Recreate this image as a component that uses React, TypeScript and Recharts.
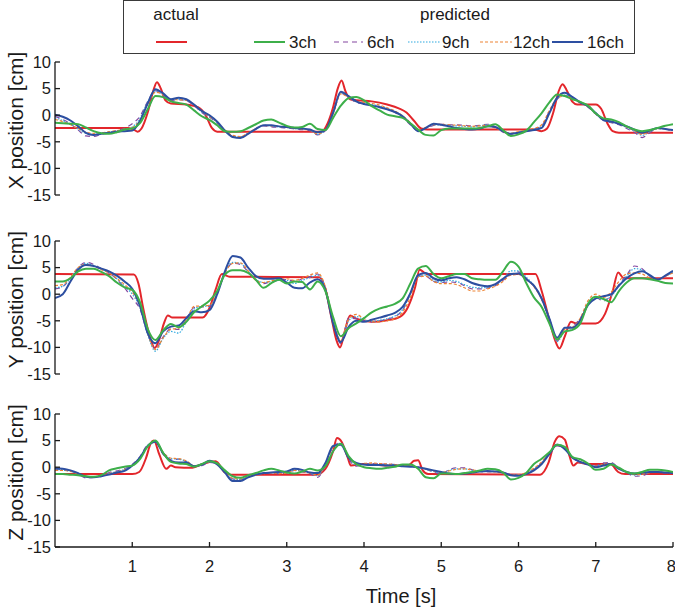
import React from 'react';
import { LineChart, Line, XAxis, YAxis, Legend } from 'recharts';

const FONT = '"Liberation Sans", Arial, Helvetica, sans-serif';

// common time grid for the predicted traces [s]
const TIME = [
  0.0, 0.1, 0.2, 0.3, 0.4, 0.5, 0.6, 0.7, 0.8, 0.9,
  1.0, 1.1, 1.2, 1.3, 1.4, 1.5, 1.6, 1.7, 1.8, 1.9,
  2.0, 2.1, 2.2, 2.3, 2.4, 2.5, 2.6, 2.7, 2.8, 2.9,
  3.0, 3.1, 3.2, 3.3, 3.4, 3.5, 3.6, 3.7, 3.8, 3.9,
  4.0, 4.1, 4.2, 4.3, 4.4, 4.5, 4.6, 4.7, 4.8, 4.9,
  5.0, 5.1, 5.2, 5.3, 5.4, 5.5, 5.6, 5.7, 5.8, 5.9,
  6.0, 6.1, 6.2, 6.3, 6.4, 6.5, 6.6, 6.7, 6.8, 6.9,
  7.0, 7.1, 7.2, 7.3, 7.4, 7.5, 7.6, 7.7, 7.8, 7.9,
  8.0,
];

const Y_TICKS = [-15, -10, -5, 0, 5, 10];
const X_TICKS = [1, 2, 3, 4, 5, 6, 7, 8];

// ---------- X position ----------
const X_ACTUAL_T = [0, 0.95, 1.02, 1.07, 1.12, 1.2, 1.27, 1.32, 1.37, 1.43, 1.5, 1.7, 1.85, 1.95, 2.03, 2.1, 2.3, 3.45, 3.53, 3.6, 3.66, 3.71, 3.76, 3.82, 3.9, 4.1, 4.3, 4.45, 4.55, 4.65, 4.74, 4.82, 6.2, 6.3, 6.37, 6.45, 6.52, 6.57, 6.62, 6.7, 6.76, 7.0, 7.07, 7.15, 7.22, 7.3, 8];
const X_ACTUAL_V = [-2.4, -2.4, -2.7, -3.1, -2.5, 0.5, 4.5, 6.2, 5.0, 2.8, 2.2, 2.0, 1.5, 0.0, -2.4, -3.1, -3.1, -3.1, -1.5, 1.5, 5.0, 6.5, 4.5, 3.0, 2.8, 2.6, 2.0, 1.3, 0.5, -1.1, -2.5, -2.7, -2.7, -3.0, -2.5, 0.5, 4.5, 5.8, 4.8, 2.5, 2.0, 2.0, 1.2, -1.5, -3.0, -3.3, -3.3];
const X_3CH = [
  -1.4, -1.5, -1.6, -1.7, -2.3, -3.0, -3.4, -3.5, -3.2, -2.7,
  -2.5, -1.5, 1.1, 3.6, 3.4, 2.6, 2.3, 2.0, 0.9, -0.2,
  -0.9, -1.9, -3.0, -3.1, -3.0, -2.4, -1.7, -1.0, -0.8, -1.4,
  -2.0, -2.3, -2.2, -1.6, -2.6, -2.8, -0.5, 1.8, 3.2, 3.4,
  2.8, 1.7, 0.9, 0.1, -0.2, -0.5, -1.5, -2.7, -3.7, -3.8,
  -2.8, -2.5, -2.5, -2.5, -2.5, -2.4, -2.1, -1.7, -2.8, -3.9,
  -3.6, -2.9, -1.3, 0.4, 2.4, 3.9, 3.6, 3.0, 2.5, 1.8,
  0.3, -0.6, -0.8, -1.3, -2.1, -2.7, -3.0, -2.8, -2.4, -2.0,
  -1.7,
];
const X_6CH = [
  -0.2, -0.8, -1.6, -2.8, -3.9, -4.0, -3.6, -3.2, -2.9, -2.4,
  -1.6, -0.2, 2.6, 4.6, 3.8, 2.8, 2.9, 2.7, 1.8, 0.5,
  -0.4, -1.5, -3.0, -4.0, -4.1, -3.4, -2.5, -2.0, -2.2, -2.3,
  -2.4, -2.6, -2.7, -2.9, -3.7, -2.9, 0.4, 4.1, 3.4, 2.4,
  2.2, 1.9, 1.6, 1.2, 0.5, -0.4, -1.8, -2.9, -2.5, -1.9,
  -1.7, -1.8, -1.8, -1.9, -2.0, -1.9, -1.7, -2.2, -3.2, -3.6,
  -3.2, -2.9, -2.6, -2.0, 0.8, 3.0, 3.7, 3.2, 2.3, 1.5,
  0.2, -1.0, -1.4, -1.8, -2.5, -3.2, -4.2, -3.3, -2.5, -2.6,
  -2.9,
];
const X_9CH = [
  -0.5, -1.0, -1.7, -2.6, -3.4, -3.6, -3.4, -3.2, -3.0, -2.7,
  -2.2, -0.6, 2.5, 4.4, 3.9, 2.9, 3.0, 2.8, 1.9, 0.6,
  -0.3, -1.4, -3.0, -4.0, -4.1, -3.4, -2.6, -1.9, -2.0, -2.2,
  -2.3, -2.5, -2.6, -2.8, -3.6, -2.8, 0.3, 4.2, 3.5, 2.5,
  2.2, 2.0, 1.7, 1.3, 0.7, -0.2, -1.6, -2.9, -2.4, -1.8,
  -1.8, -1.9, -2.0, -2.1, -2.2, -2.0, -1.8, -2.3, -3.1, -3.5,
  -3.2, -2.9, -2.6, -2.1, 0.6, 3.1, 3.8, 3.3, 2.4, 1.6,
  0.3, -0.9, -1.3, -1.7, -2.3, -3.0, -3.8, -3.1, -2.5, -2.6,
  -2.9,
];
const X_12CH = [
  -0.8, -1.2, -1.8, -2.5, -3.2, -3.4, -3.3, -3.1, -2.9, -2.6,
  -2.3, -0.9, 2.2, 4.3, 3.9, 2.9, 2.9, 2.8, 2.0, 0.8,
  -0.2, -1.3, -2.8, -3.8, -4.0, -3.3, -2.5, -1.9, -2.0, -2.1,
  -2.3, -2.4, -2.6, -2.8, -3.5, -2.7, 0.2, 4.0, 3.4, 2.6,
  2.4, 2.2, 1.9, 1.4, 0.8, -0.1, -1.4, -2.8, -2.3, -1.8,
  -1.7, -1.8, -1.9, -2.0, -2.1, -2.0, -1.9, -2.4, -3.0, -3.4,
  -3.1, -2.8, -2.5, -1.8, 0.9, 3.2, 3.6, 3.1, 2.3, 1.6,
  0.3, -0.8, -1.2, -1.6, -2.2, -2.9, -3.6, -3.0, -2.5, -2.6,
  -2.8,
];
const X_16CH = [
  0.1, -0.3, -1.0, -2.1, -3.3, -3.7, -3.5, -3.3, -3.1, -3.0,
  -2.9, -1.1, 2.2, 4.9, 4.1, 3.0, 3.3, 3.0, 2.0, 0.8,
  0.0, -1.2, -2.9, -4.1, -4.3, -3.5, -2.6, -1.9, -1.9, -2.1,
  -2.2, -2.4, -2.5, -2.7, -3.2, -2.8, 0.5, 4.4, 3.6, 2.6,
  2.1, 1.8, 1.5, 1.1, 0.6, -0.2, -1.6, -3.0, -2.4, -1.6,
  -1.8, -2.1, -2.4, -2.6, -2.7, -2.5, -2.1, -2.2, -3.0, -3.5,
  -3.3, -3.0, -2.8, -2.4, 0.4, 3.3, 4.2, 3.4, 2.4, 1.7,
  0.4, -0.9, -1.2, -1.6, -2.1, -2.7, -3.3, -2.9, -2.4, -2.6,
  -2.8,
];

// ---------- Y position ----------
const Y_ACTUAL_T = [0, 1.02, 1.08, 1.14, 1.2, 1.25, 1.29, 1.35, 1.41, 1.46, 1.52, 1.91, 2.0, 2.08, 2.16, 2.26, 3.42, 3.5, 3.58, 3.64, 3.69, 3.75, 3.82, 3.9, 4.1, 4.3, 4.47, 4.57, 4.66, 4.72, 4.81, 6.22, 6.3, 6.4, 6.47, 6.53, 6.6, 6.68, 6.75, 7.0, 7.12, 7.22, 7.29, 7.36, 8];
const Y_ACTUAL_V = [3.8, 3.7, 2.0, -2.5, -6.5, -9.0, -10.1, -8.5, -5.5, -4.0, -4.4, -4.4, -2.6, 0.9, 3.8, 3.3, 3.2, 1.0, -4.5, -8.5, -10.0, -7.0, -4.0, -4.6, -5.2, -4.9, -4.2, -2.4, 1.2, 4.6, 3.8, 3.8, 0.6, -4.9, -8.5, -10.2, -7.9, -5.2, -5.5, -5.5, -3.7, 0.6, 4.1, 3.0, 3.0];
const Y_3CH = [
  2.4, 2.4, 3.0, 4.3, 4.8, 4.8, 4.2, 3.4, 2.2, 1.3,
  0.8, -1.5, -6.5, -8.6, -6.8, -5.6, -6.2, -5.2, -3.4, -2.3,
  -1.2, 0.6, 3.7, 4.5, 4.5, 4.0, 2.7, 1.2, 2.1, 2.7,
  2.0, 2.4, 2.3, 0.9, 2.4, 0.6, -4.3, -7.9, -6.4, -5.5,
  -4.5, -3.4, -2.7, -2.3, -1.8, -0.8, 2.0, 4.8, 5.3, 3.8,
  3.0, 3.4, 3.8, 3.8, 3.0, 2.8, 2.7, 2.7, 4.3, 6.1,
  5.2, 2.1, -0.6, -2.4, -5.5, -8.5, -7.0, -6.7, -5.5, -1.8,
  -0.5, -0.9, -1.5, 0.6, 2.2, 3.0, 3.0, 2.8, 2.5, 2.1,
  2.0,
];
const Y_6CH = [
  1.0, 1.4, 3.0, 5.0, 6.0, 5.6, 4.8, 4.0, 2.8, 1.2,
  -0.8, -2.8, -7.5, -10.3, -8.0, -6.5, -6.6, -4.8, -2.5, -2.4,
  -2.3, 0.2, 4.0, 5.8, 5.6, 4.2, 2.6, 2.0, 2.4, 2.6,
  2.8, 2.4, 2.9, 3.3, 3.8, 1.2, -5.0, -9.3, -4.5, -4.6,
  -5.0, -5.2, -5.0, -4.7, -4.2, -3.0, 0.0, 3.4, 3.4, 2.4,
  2.2, 2.3, 2.2, 1.6, 1.0, 1.0, 1.2, 1.6, 2.6, 3.6,
  4.2, 3.0, 1.5, -1.0, -4.8, -8.8, -6.4, -6.0, -4.5, -1.8,
  -0.6, -1.3, -0.2, 1.8, 3.6, 5.3, 4.8, 3.4, 2.8, 3.4,
  4.0,
];
const Y_9CH = [
  1.2, 1.5, 3.0, 4.9, 5.8, 5.4, 4.7, 4.0, 2.9, 1.5,
  0.0, -2.5, -7.6, -10.7, -8.3, -7.0, -7.3, -5.2, -2.8, -2.3,
  -2.2, 0.2, 4.2, 6.0, 5.8, 4.3, 2.8, 2.2, 2.4, 2.6,
  2.6, 2.0, 2.6, 3.1, 3.6, 1.0, -5.2, -9.0, -5.0, -4.2,
  -4.8, -5.1, -4.9, -4.6, -4.1, -2.9, 0.1, 3.4, 3.6, 2.6,
  2.3, 2.6, 2.4, 1.8, 1.3, 1.2, 1.3, 1.8, 2.8, 4.4,
  4.4, 3.2, 1.6, -0.8, -4.6, -8.9, -7.0, -6.6, -4.9, -1.8,
  -0.6, -1.0, -0.4, 1.6, 3.4, 4.8, 4.6, 3.4, 2.8, 3.4,
  4.1,
];
const Y_12CH = [
  1.6, 1.8, 3.2, 5.0, 5.6, 5.3, 4.6, 4.0, 3.0, 1.8,
  0.4, -2.2, -7.4, -10.4, -8.2, -6.6, -6.4, -4.8, -2.3, -2.2,
  -2.1, 0.4, 4.0, 5.8, 5.9, 4.4, 2.6, 2.2, 2.5, 2.8,
  2.9, 2.6, 3.0, 3.6, 4.0, 1.4, -4.8, -8.7, -4.7, -3.8,
  -4.6, -5.2, -5.2, -5.0, -4.6, -3.4, -0.6, 3.2, 3.4, 2.4,
  2.0, 2.0, 1.8, 1.2, 0.6, 0.6, 1.0, 1.5, 2.4, 3.6,
  3.7, 2.8, 1.4, -1.0, -4.6, -8.6, -6.6, -6.2, -4.5, -1.2,
  0.0, -0.6, 0.4, 2.4, 3.8, 4.0, 3.8, 3.0, 2.7, 3.4,
  4.0,
];
const Y_16CH = [
  -0.7, 0.0, 2.4, 4.6, 5.5, 5.3, 4.8, 4.3, 3.5, 2.4,
  1.0, -2.2, -7.3, -9.2, -7.0, -6.1, -5.9, -4.5, -3.2, -3.4,
  -3.0, 0.0, 4.3, 7.2, 6.9, 5.0, 3.4, 2.9, 2.9, 3.0,
  2.2, 1.2, 1.1, 2.2, 2.8, 0.8, -5.5, -9.0, -6.2, -5.0,
  -5.2, -4.8, -4.4, -4.0, -3.5, -2.4, 0.2, 3.6, 4.0, 3.0,
  2.6, 3.0, 3.2, 2.8, 2.1, 1.7, 1.5, 1.9, 2.9, 3.8,
  3.9, 2.8, 1.6, -0.8, -4.6, -8.2, -6.3, -6.3, -4.9, -2.0,
  -0.8, -0.4, 0.0, 1.6, 3.0, 3.9, 4.3, 3.6, 2.7, 3.5,
  4.4,
];

// ---------- Z position ----------
const Z_ACTUAL_T = [0, 1.0, 1.09, 1.18, 1.24, 1.28, 1.35, 1.44, 1.5, 1.56, 1.78, 1.91, 2.08, 2.2, 2.28, 3.38, 3.5, 3.6, 3.65, 3.71, 3.79, 3.83, 3.98, 4.3, 4.57, 4.65, 4.7, 4.76, 4.83, 6.28, 6.39, 6.47, 6.53, 6.6, 6.66, 6.71, 6.77, 6.9, 7.19, 7.29, 7.38, 8];
const Z_ACTUAL_V = [-1.3, -1.3, -0.9, 1.8, 4.5, 5.0, 2.4, -0.3, 0.3, 0.0, -0.1, 0.6, 1.1, -1.0, -1.4, -1.4, -0.3, 3.0, 5.5, 4.8, 1.8, 0.3, 0.6, 0.3, 0.3, 1.2, 1.3, -0.6, -1.3, -1.4, 0.9, 4.8, 5.8, 5.2, 2.1, 0.3, 0.9, 0.6, 0.6, -0.9, -1.3, -1.3];
const Z_3CH = [
  -1.3, -1.3, -1.4, -1.5, -1.7, -1.8, -1.5, -0.6, -0.2, 0.1,
  0.3, 1.5, 3.9, 5.0, 2.7, 1.0, 0.7, 0.6, 0.1, 0.6,
  1.1, 0.7, -0.6, -1.7, -2.0, -1.5, -1.1, -0.6, -0.3, -0.6,
  -1.0, -1.2, -0.8, -0.3, -0.6, 0.2, 3.0, 4.4, 2.1, 0.6,
  0.0, -0.2, -0.3, -0.1, 0.1, 0.5, 0.5, -0.3, -1.9, -2.1,
  -1.2, -1.2, -1.3, -1.1, -0.9, -0.6, -0.3, -0.4, -1.0, -2.3,
  -2.0, -1.1, 0.6, 1.6, 2.8, 4.2, 3.8, 1.9, 1.5, 0.7,
  -0.5, -0.3, 0.5, -0.1, -0.9, -1.2, -0.9, -0.5, -0.5, -0.6,
  -0.9,
];
const Z_6CH = [
  -0.5, -0.4, -0.7, -1.3, -2.0, -1.9, -1.6, -1.0, -0.7, -0.3,
  0.5, 2.0, 4.2, 4.7, 2.4, 1.4, 1.5, 1.0, 0.2, 0.3,
  0.9, 0.6, -0.8, -2.2, -2.4, -1.8, -1.3, -1.2, -1.1, -1.2,
  -1.1, -0.6, -0.9, -1.2, -1.9, 0.4, 3.8, 4.6, 1.6, 0.2,
  0.5, 0.7, 0.6, 0.6, 0.5, 0.3, 0.2, 0.0, -0.4, -0.9,
  -1.3, -0.5, -0.1, -0.1, -0.5, -0.8, -0.9, -0.8, -1.0, -1.4,
  -1.5, -1.2, -0.4, 0.8, 2.6, 4.0, 3.5, 1.7, 0.9, 0.6,
  0.3, 0.8, 0.9, -0.2, -1.0, -1.7, -1.6, -1.1, -0.9, -1.1,
  -1.1,
];
const Z_9CH = [
  -0.4, -0.5, -0.8, -1.2, -1.8, -1.8, -1.6, -1.2, -0.8, -0.4,
  0.4, 1.9, 4.1, 4.8, 2.7, 1.6, 1.5, 1.1, 0.2, 0.4,
  1.0, 0.6, -0.9, -2.3, -2.3, -1.7, -1.3, -1.1, -1.0, -1.1,
  -1.0, -0.5, -0.8, -1.1, -1.6, 0.5, 3.9, 4.5, 1.8, 0.4,
  0.5, 0.6, 0.5, 0.5, 0.4, 0.3, 0.2, -0.1, -0.4, -0.8,
  -1.1, -0.6, -0.3, -0.3, -0.6, -0.8, -0.8, -0.8, -1.1, -1.5,
  -1.5, -1.1, -0.3, 0.8, 2.7, 4.3, 3.6, 1.8, 0.9, 0.6,
  0.2, 0.6, 0.7, -0.2, -0.9, -1.5, -1.3, -1.0, -0.9, -1.0,
  -1.1,
];
const Z_12CH = [
  -0.6, -0.6, -0.8, -1.2, -1.7, -1.8, -1.6, -1.2, -0.9, -0.5,
  0.3, 1.8, 4.0, 4.8, 2.8, 1.7, 1.6, 1.2, 0.3, 0.5,
  1.1, 0.7, -0.8, -2.1, -2.2, -1.7, -1.4, -1.2, -1.1, -1.2,
  -1.1, -0.6, -0.8, -1.1, -1.5, 0.6, 3.8, 4.4, 1.9, 0.6,
  0.7, 0.8, 0.7, 0.6, 0.5, 0.3, 0.2, 0.0, -0.3, -0.7,
  -1.0, -0.7, -0.4, -0.3, -0.5, -0.7, -0.8, -0.9, -1.2, -1.5,
  -1.4, -1.0, -0.2, 1.0, 2.8, 4.1, 3.5, 1.9, 1.0, 0.5,
  0.2, 0.5, 0.6, -0.3, -0.9, -1.4, -1.3, -1.0, -0.9, -1.0,
  -1.0,
];
const Z_16CH = [
  -0.2, -0.3, -0.6, -1.1, -1.8, -1.9, -1.7, -1.4, -1.0, -0.7,
  0.3, 1.8, 4.0, 4.8, 2.6, 1.2, 0.9, 0.9, 0.2, 0.5,
  1.2, 0.5, -1.0, -2.6, -2.6, -1.9, -1.4, -1.1, -1.0, -0.9,
  -0.8, -0.3, -0.5, -1.0, -1.1, 0.8, 4.0, 4.2, 1.8, 0.8,
  0.5, 0.4, 0.4, 0.3, 0.3, 0.2, 0.1, 0.0, -0.3, -0.6,
  -0.9, -1.2, -1.3, -1.2, -1.0, -0.8, -0.7, -0.8, -1.0, -1.5,
  -1.6, -1.3, -0.6, 0.6, 2.5, 4.2, 3.4, 1.8, 1.0, 0.5,
  0.0, 0.3, 0.6, -0.3, -0.9, -1.2, -1.0, -0.9, -0.9, -1.0,
  -1.1,
];

const COLORS = {
  actual: '#e3262b',
  ch3: '#3daf4a',
  ch6: '#8447a0',
  ch9: '#2fa9e0',
  ch12: '#ee8434',
  ch16: '#2d4fa1',
};

const pts = (ts: number[], vs: number[]) => ts.map((t, i) => ({ t, v: vs[i] }));

const LegendBox = () => (
  <svg width={675} height={58} style={{ display: 'block' }}>
    <rect x={123.5} y={0.5} width={511} height={53} fill="#fff" stroke="#3a3a3a" strokeWidth={1} />
    <g fontFamily={FONT} fontSize={17} fill="#1a1a1a">
      <text x={176} y={20} textAnchor="middle">actual</text>
      <text x={455} y={20} textAnchor="middle">predicted</text>
      <line x1={156} x2={187} y1={42} y2={42} stroke={COLORS.actual} strokeWidth={2} />
      <line x1={254} x2={285} y1={42} y2={42} stroke={COLORS.ch3} strokeWidth={2} />
      <text x={289} y={48}>3ch</text>
      <line x1={334} x2={363} y1={42} y2={42} stroke={COLORS.ch6} strokeWidth={1.2} strokeDasharray="5 4" />
      <text x={367} y={48}>6ch</text>
      <line x1={408} x2={440} y1={42} y2={42} stroke={COLORS.ch9} strokeWidth={1.2} strokeDasharray="1.5 1.5" />
      <text x={442} y={48}>9ch</text>
      <line x1={480} x2={512} y1={42} y2={42} stroke={COLORS.ch12} strokeWidth={1.2} strokeDasharray="3 2" />
      <text x={513} y={48}>12ch</text>
      <line x1={552} x2={583} y1={42} y2={42} stroke={COLORS.ch16} strokeWidth={2} />
      <text x={587} y={48}>16ch</text>
    </g>
  </svg>
);

const XTick = (props: any) => {
  const { x, y, payload } = props;
  const last = payload.value === 8;
  return (
    <text
      x={last ? x + 3 : x}
      y={y}
      dy="0.71em"
      textAnchor={last ? 'end' : 'middle'}
      fontFamily={FONT}
      fontSize={16.5}
      fill="#1a1a1a"
    >
      {payload.value}
    </text>
  );
};

type PanelProps = {
  top: number;
  marginTop: number;
  label: string;
  showX: boolean;
  withLegend?: boolean;
  actualT: number[];
  actualV: number[];
  s3: number[];
  s6: number[];
  s9: number[];
  s12: number[];
  s16: number[];
};

const PLOT_H = 133;
const AXIS_COLOR = '#1a1a1a';

function Panel(p: PanelProps) {
  const xAxisH = 67;
  const height = p.marginTop + PLOT_H + (p.showX ? xAxisH : 10);
  const labelCy = p.marginTop + PLOT_H / 2 - 8;
  return (
    <div style={{ position: 'absolute', left: 0, top: p.top, width: 675, height }}>
      <LineChart
        width={675}
        height={height}
        margin={{ top: p.marginTop, right: 2, bottom: p.showX ? 0 : 10, left: 0 }}
      >
        <XAxis
          type="number"
          dataKey="t"
          domain={[0, 8]}
          ticks={X_TICKS}
          interval={0}
          hide={!p.showX}
          height={xAxisH}
          allowDataOverflow
          axisLine={{ stroke: AXIS_COLOR, strokeWidth: 1.3 }}
          tickLine={{ stroke: AXIS_COLOR, strokeWidth: 1.3 }}
          tickSize={-5}
          tickMargin={18}
          tick={<XTick />}
          label={() => (
            <text x={401} y={p.marginTop + PLOT_H + 49} textAnchor="middle" dominantBaseline="central" fontFamily={FONT} fontSize={20} fill={AXIS_COLOR}>
              Time [s]
            </text>
          )}
        />
        <YAxis
          type="number"
          domain={[-15, 10]}
          ticks={Y_TICKS}
          interval={0}
          width={55}
          allowDataOverflow
          axisLine={{ stroke: AXIS_COLOR, strokeWidth: 1.3 }}
          tickLine={{ stroke: AXIS_COLOR, strokeWidth: 1.3 }}
          tickSize={-5}
          tickMargin={9}
          tick={{ fill: AXIS_COLOR, fontSize: 16.5, fontFamily: FONT }}
          label={() => (
            <text
              x={15}
              y={labelCy}
              transform={`rotate(-90, 15, ${labelCy})`}
              textAnchor="middle"
              dominantBaseline="central"
              fontFamily={FONT}
              fontSize={21}
              fill={AXIS_COLOR}
            >
              {p.label}
            </text>
          )}
        />
        {p.withLegend && (
          <Legend
            layout="horizontal"
            verticalAlign="middle"
            align="center"
            wrapperStyle={{ left: 0, top: 0, width: 675, height: 58 }}
            content={() => <LegendBox />}
          />
        )}
        <Line data={pts(p.actualT, p.actualV)} dataKey="v" name="actual" type="monotone" stroke={COLORS.actual} strokeWidth={2} dot={false} isAnimationActive={false} />
        <Line data={pts(TIME, p.s6)} dataKey="v" name="6ch" type="monotone" stroke={COLORS.ch6} strokeWidth={1.2} strokeDasharray="5 4" dot={false} isAnimationActive={false} />
        <Line data={pts(TIME, p.s9)} dataKey="v" name="9ch" type="monotone" stroke={COLORS.ch9} strokeWidth={1.2} strokeDasharray="1.5 1.5" dot={false} isAnimationActive={false} />
        <Line data={pts(TIME, p.s12)} dataKey="v" name="12ch" type="monotone" stroke={COLORS.ch12} strokeWidth={1.2} strokeDasharray="3 2" dot={false} isAnimationActive={false} />
        <Line data={pts(TIME, p.s16)} dataKey="v" name="16ch" type="monotone" stroke={COLORS.ch16} strokeWidth={2} dot={false} isAnimationActive={false} />
        <Line data={pts(TIME, p.s3)} dataKey="v" name="3ch" type="monotone" stroke={COLORS.ch3} strokeWidth={2} dot={false} isAnimationActive={false} />
      </LineChart>
    </div>
  );
}

export default function App() {
  return (
    <div style={{ position: 'absolute', left: 0, top: 0, width: 675, height: 614, background: '#fff', overflow: 'hidden' }}>
      <Panel top={0} marginTop={62} label="X position [cm]" showX={false} withLegend
        actualT={X_ACTUAL_T} actualV={X_ACTUAL_V} s3={X_3CH} s6={X_6CH} s9={X_9CH} s12={X_12CH} s16={X_16CH} />
      <Panel top={231} marginTop={10} label="Y position [cm]" showX={false}
        actualT={Y_ACTUAL_T} actualV={Y_ACTUAL_V} s3={Y_3CH} s6={Y_6CH} s9={Y_9CH} s12={Y_12CH} s16={Y_16CH} />
      <Panel top={404} marginTop={10} label="Z position [cm]" showX
        actualT={Z_ACTUAL_T} actualV={Z_ACTUAL_V} s3={Z_3CH} s6={Z_6CH} s9={Z_9CH} s12={Z_12CH} s16={Z_16CH} />
    </div>
  );
}
